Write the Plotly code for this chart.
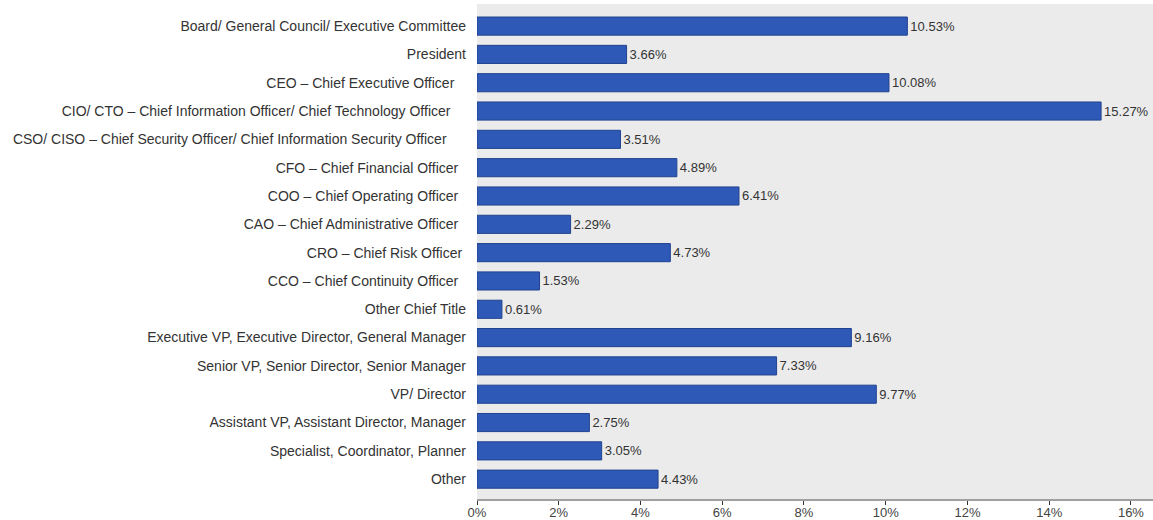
import plotly.graph_objects as go

NB = "\u00a0"

# Data
titles = [
    "Board/ General Council/ Executive Committee",
    "President",
    "CEO – Chief Executive Officer" + NB * 3,
    "CIO/ CTO – Chief Information Officer/ Chief Technology Officer" + NB * 4,
    "CSO/ CISO – Chief Security Officer/ Chief Information Security Officer" + NB * 5,
    "CFO – Chief Financial Officer" + NB * 2,
    "COO – Chief Operating Officer" + NB * 2,
    "CAO – Chief Administrative Officer" + NB * 2,
    "CRO – Chief Risk Officer" + NB,
    "CCO – Chief Continuity Officer" + NB * 2,
    "Other Chief Title",
    "Executive VP, Executive Director, General Manager",
    "Senior VP, Senior Director, Senior Manager",
    "VP/ Director",
    "Assistant VP, Assistant Director, Manager",
    "Specialist, Coordinator, Planner",
    "Other",
]
shares = [10.53, 3.66, 10.08, 15.27, 3.51, 4.89, 6.41, 2.29, 4.73,
          1.53, 0.61, 9.16, 7.33, 9.77, 2.75, 3.05, 4.43]
x_ticks = [0, 2, 4, 6, 8, 10, 12, 14, 16]

FONT = "Liberation Sans, Arial, sans-serif"

fig = go.Figure()
fig.add_trace(go.Bar(
    x=shares,
    y=titles,
    orientation="h",
    width=0.64,
    marker=dict(color="#2e59b6", line=dict(color="#21438f", width=1)),
    text=[f"{v:.2f}%" for v in shares],
    textposition="outside",
    textfont=dict(family=FONT, size=13, color="#333333"),
    cliponaxis=False,
))

fig.update_layout(
    width=1153,
    height=520,
    margin=dict(l=477, r=0, t=4, b=21),
    paper_bgcolor="white",
    plot_bgcolor="#ebebeb",
    showlegend=False,
    font=dict(family=FONT, size=13, color="#333333"),
)
fig.update_xaxes(
    range=[0, 16.54],
    tickvals=x_ticks,
    ticktext=[f"{t}%" for t in x_ticks],
    showgrid=False,
    zeroline=False,
    showline=True,
    linecolor="#a0a0a0",
    linewidth=2,
    ticks="outside",
    ticklen=4,
    tickcolor="#333333",
    ticklabelstandoff=-4,
    tickfont=dict(family=FONT, size=13, color="#444444"),
    automargin=False,
)
fig.update_yaxes(
    range=[len(titles) - 1 + 0.7, -0.78],
    showgrid=False,
    zeroline=False,
    ticks="",
    ticklabelstandoff=10,
    tickfont=dict(family=FONT, size=14, color="#333333"),
    automargin=False,
)

fig.write_html(
    "out.html",
    config={"displayModeBar": False},
    post_script="document.body.style.margin='0';",
)
